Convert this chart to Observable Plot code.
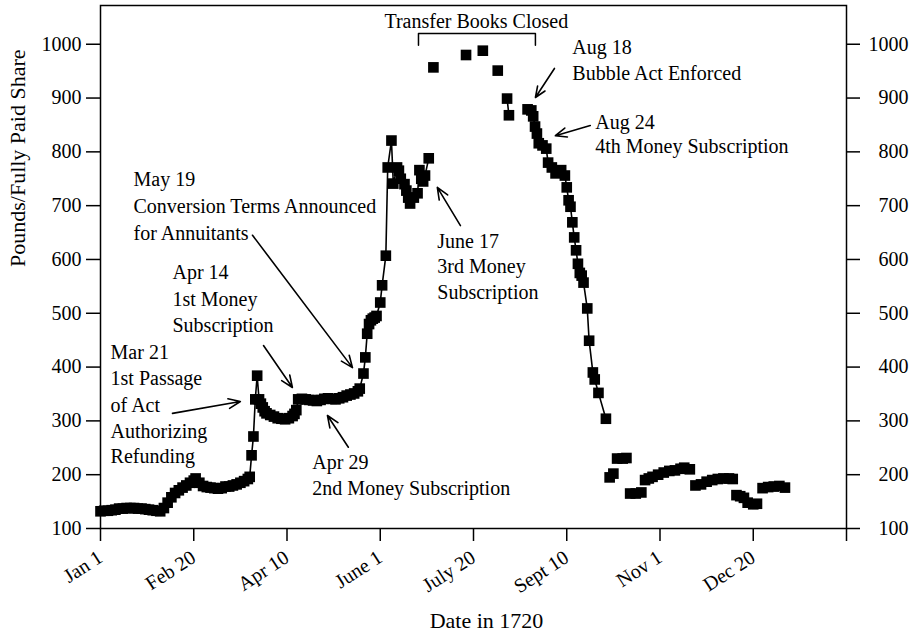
<!DOCTYPE html>
<html><head><meta charset="utf-8">
<script src="https://cdn.jsdelivr.net/npm/d3@7"></script>
<script src="https://cdn.jsdelivr.net/npm/@observablehq/plot@0.6"></script>
<style>
body{margin:0;background:#fff}
#chart svg, #chart svg text{font-family:'Liberation Serif','DejaVu Serif',serif !important}
</style>
</head><body><div id="chart"></div>
<script>
// Day number (0 = Jan 1, 1720) and price in pounds per fully paid share
const day = [0,2,4,6,8,10,12,14,16,18,20,22,24,26,28,30,32,34,36,38,40,42,44,46,48,50,51,53,55,57,59,61,63,65,67,69,71,73,75,77,79,80,81,82,83,84,85,86,87,88,89,91,93,95,97,99,101,103,104,105,106,108,110,112,114,116,118,120,122,124,126,128,130,132,134,136,138,139,141,142,143,144,145,146,147,148,150,151,153,154,156,157,159,160,161,163,164,165,166,168,170,171,172,173,174,176,
  178.5,196,205,213,
  218,219,
  229,231,232,233,234,235,237,239,240,242,244,245,247,249,250,251,252,253,254,255,256,257,258,259,261,262,264,265,267,271,
  273,275,
  277,280,282,
  284,287,290,
  292,294,296,299,302,305,308,311,313,316,
  319,322,325,328,331,334,337,339,
  341,343,345,
  347,350,352,
  355,358,361,364,367];
const price = [132,133,133,134,135,137,137,138,138,138,137,137,136,135,134,133,132,138,148,158,166,171,176,180,185,189,193,185,179,177,176,175,174,175,178,178,180,182,185,188,192,196,236,271,340,384,340,332,325,318,314,311,308,305,304,303,305,309,313,320,340,341,340,339,338,337,339,341,342,341,340,342,344,347,349,351,355,360,388,418,462,480,487,490,492,495,520,552,607,771,821,741,771,765,750,740,728,715,704,715,723,766,750,745,756,788,
  957,980,988,951,
  899,868,
  879,877,866,847,834,816,812,806,780,771,760,762,766,756,734,710,698,669,641,617,592,575,570,557,509,449,390,377,352,304,
  195,202,
  230,230,231,
  165,165,167,
  190,193,196,200,204,207,208,211,213,210,
  180,182,187,190,192,193,193,192,
  162,160,157,
  148,145,146,
  175,177,178,179,176];
// run of consecutive quotations that the line joins
const run = [1,1,1,1,1,1,1,1,1,1,1,1,1,1,1,1,1,1,1,1,1,1,1,1,1,1,1,1,1,1,1,1,1,1,1,1,1,1,1,1,1,1,1,1,1,1,1,1,1,1,1,1,1,1,1,1,1,1,1,1,1,1,1,1,1,1,1,1,1,1,1,1,1,1,1,1,1,1,1,1,1,1,1,1,1,1,1,1,1,1,1,1,1,1,1,1,1,1,1,1,1,1,1,1,1,1,
  2,3,4,5,
  6,6,
  7,7,7,7,7,7,7,7,7,7,7,7,7,7,7,7,7,7,7,7,7,7,7,7,7,7,7,7,7,7,
  8,8,
  9,9,9,
  10,10,10,
  11,11,11,11,11,11,11,11,11,11,
  12,12,12,12,12,12,12,12,
  13,13,13,
  14,14,14,
  15,15,15,15,15];

const tickDays = [0,50,100,150,200,250,300,350,400];
const tickLabels = ["Jan 1","Feb 20","Apr 10","June 1","July 20","Sept 10","Nov 1","Dec 20",""];
const yTicks = [100,200,300,400,500,600,700,800,900,1000];

// annotation lines (left-aligned)
const noteText = ["Aug 18","Bubble Act Enforced","Aug 24","4th Money Subscription",
  "June 17","3rd Money","Subscription",
  "May 19","Conversion Terms Announced","for Annuitants",
  "Apr 14","1st Money","Subscription",
  "Mar 21","1st Passage","of Act","Authorizing","Refunding",
  "Apr 29","2nd Money Subscription"];
const noteDay = [253,253,265.3,265.3, 180.6,180.6,180.6, 17.7,17.7,17.7, 38.6,38.6,38.6, 5.4,5.4,5.4,5.4,5.4, 113.6,113.6];
const notePrice = [993,946,855,809, 634,586,538, 748,699,649, 575,526,478, 426,378,329,281,233, 223,175];
// centred heading over the bracket
const headText = ["Transfer Books Closed"];
const headDay = [201.5];
const headPrice = [1043];

const arrowFromDay = [243.4,262.6,193,81.5,87.4,38.6,132.9];
const arrowFromPrice = [955,849,663,645,440,314,251];
const arrowToDay = [233.2,243.9,180.6,135.1,102.9,75,121.7];
const arrowToPrice = [901,830,734,399,362,336,310];

const bracketDay = [170.5,170.5,233.2,233.2];
const bracketPrice = [998,1020,1020,998];

const data = day.map((d,i)=>({day:d, price:price[i], run:run[i]}));
const notes = noteText.map((t,i)=>({text:t, day:noteDay[i], price:notePrice[i]}));
const heads = headText.map((t,i)=>({text:t, day:headDay[i], price:headPrice[i]}));
const arrows = arrowFromDay.map((d,i)=>({x1:d, y1:arrowFromPrice[i], x2:arrowToDay[i], y2:arrowToPrice[i]}));
const bracket = bracketDay.map((d,i)=>({day:d, price:bracketPrice[i]}));

const FONT = "'Liberation Serif', 'DejaVu Serif', serif";
const chart = Plot.plot({
  width:921, height:639,
  marginLeft:100, marginRight:75, marginTop:5, marginBottom:111,
  style:{fontFamily:FONT, fontSize:"20px", color:"black", background:"white", overflow:"visible"},
  x:{domain:[0,400]},
  y:{domain:[100,1072]},
  marks:[
    Plot.frame({stroke:"black", strokeWidth:1.5}),
    Plot.axisY(yTicks, {anchor:"left", tickSize:14, tickPadding:5, strokeWidth:1.5, tickFormat:d=>String(d), label:null, fontSize:20, fontFamily:FONT}),
    Plot.axisY(yTicks, {anchor:"right", tickSize:13, strokeWidth:1.5, tickFormat:()=>"", label:null}),
    Plot.text(yTicks, {y:d=>d, text:d=>String(d), frameAnchor:"right", dx:62, textAnchor:"end", fontSize:20, fontFamily:FONT}),
    Plot.axisX(tickDays, {anchor:"bottom", tickSize:13, tickPadding:14, tickRotate:-33, strokeWidth:1.5,
      tickFormat:d=>tickLabels[tickDays.indexOf(d)], label:null, fontSize:20, fontFamily:FONT}),
    Plot.text(["Pounds/Fully Paid Share"], {frameAnchor:"left", dx:-83, rotate:-90, fontSize:22, fontFamily:FONT}),
    Plot.text(["Date in 1720"], {frameAnchor:"bottom", dx:13, dy:99, fontSize:22, fontFamily:FONT}),
    Plot.line(data, {x:"day", y:"price", z:"run", stroke:"black", strokeWidth:1.6}),
    Plot.dot(data, {x:"day", y:"price", symbol:"square", r:6, fill:"black"}),
    Plot.line(bracket, {x:"day", y:"price", stroke:"black", strokeWidth:1.5}),
    Plot.arrow(arrows, {x1:"x1", y1:"y1", x2:"x2", y2:"y2", stroke:"black", strokeWidth:1.6, headLength:12, headAngle:45}),
    Plot.text(notes, {x:"day", y:"price", text:"text", textAnchor:"start", fontSize:20, fontFamily:FONT}),
    Plot.text(heads, {x:"day", y:"price", text:"text", textAnchor:"middle", fontSize:20, fontFamily:FONT})
  ]
});
document.getElementById("chart").append(chart);
</script>
</body></html>
